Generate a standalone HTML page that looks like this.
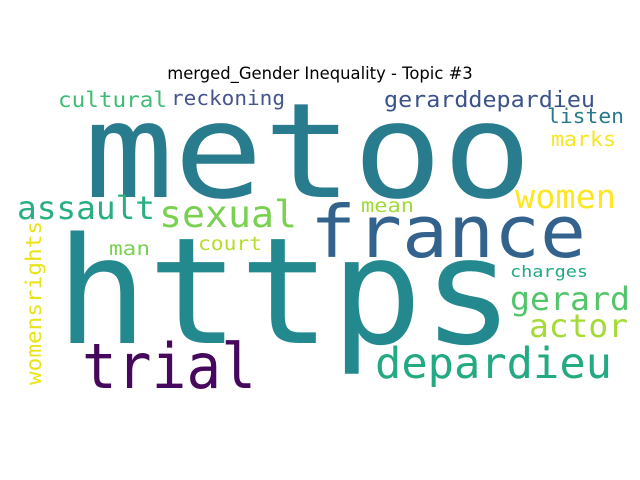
<!DOCTYPE html>
<html><head><meta charset="utf-8"><style>
html,body{margin:0;padding:0;background:#fff;}
svg{display:block;}
.w{font-family:"DejaVu Sans Mono","Liberation Mono",monospace;}
</style></head><body>
<svg id="chart" width="640" height="480" viewBox="0 0 640 480">
<text x="320" y="79" text-anchor="middle" font-family="DejaVu Sans, Liberation Sans, sans-serif" font-size="16.4" fill="#000">merged_Gender Inequality - Topic #3</text>
<g id="words"></g>
</svg>
<script>
const words = ["metoo","https","france","trial","depardieu","sexual","assault","women","gerard","actor","cultural","reckoning","gerarddepardieu","listen","marks","mean","man","court","charges","womensrights"];
const fontSizes = [132,148,72,62,43,37,32,33,32,32,21,20,22,20,20,19,19,19,16,21];
const colors = ["#297b8e","#23898e","#33638d","#46085c","#24aa83","#7ad151","#29af7f","#fde725","#52c569","#a5db36","#3dbc74","#46558b","#3b528b","#2a788e","#f5e61f","#a0da39","#7ad151","#b5de2b","#22a884","#e8e419"];
// layout (left x, baseline y, ink width, rotated)
const layout = [
 [84,197,448,0],[56,343,458,0],[310,257,276,0],[82,388,174,0],[375,378,237,0],
 [159,227,138,0],[17,219,138,0],[515,208,101,0],[510,310,120,0],[529,337,99,0],
 [58,107,109,0],[171,105,114,0],[384,107,211,0],[547,123,77,0],[551,146,65,0],
 [361,212,53,0],[109,255,41,0],[198,250,64,0],[510,277,78,0],[41,385,164,1]
];
const g = document.getElementById('words');
const NS = "http://www.w3.org/2000/svg";
words.forEach((w,i)=>{
  const [x,y,len,rot] = layout[i];
  const t = document.createElementNS(NS,'text');
  t.setAttribute('class','w');
  t.setAttribute('font-size',fontSizes[i]);
  t.setAttribute('fill',colors[i]);
  t.setAttribute('textLength',len);
  t.setAttribute('lengthAdjust','spacingAndGlyphs');
  if(rot){
    t.setAttribute('x',0);t.setAttribute('y',0);
    t.setAttribute('transform','translate('+x+','+y+') rotate(-90)');
  } else {
    t.setAttribute('x',x);t.setAttribute('y',y);
  }
  t.textContent = w;
  
  
  g.appendChild(t);
});
</script>
</body></html>
